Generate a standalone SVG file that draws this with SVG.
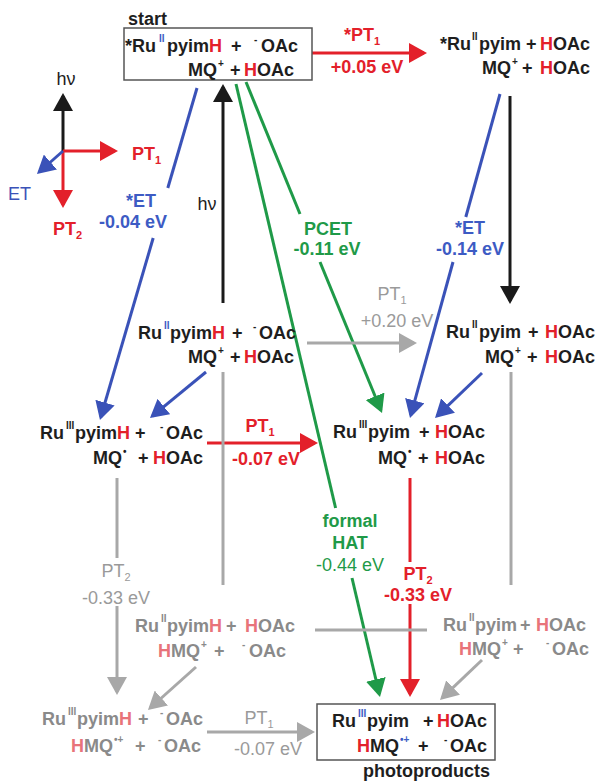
<svg xmlns="http://www.w3.org/2000/svg" width="600" height="784" viewBox="0 0 600 784">
<style>
text{font-family:"Liberation Sans",Arial,Helvetica,sans-serif}
.t{font-size:18px;font-weight:bold;fill:#1e1e1e}
.g{font-size:18px;font-weight:bold;fill:#8a8a8a}
.sup{font-size:10px}
.r{fill:#e3202a}
.lr{fill:#e8737a}
.bl{fill:#3d5bc4}
.lab{font-size:18px;font-weight:bold;text-anchor:middle}
.glab{font-size:18px;fill:#9a9a9a;text-anchor:middle}
.sub{font-size:11px}
.box{fill:#fff;stroke:#555;stroke-width:1.5}
.c{fill:none;stroke-width:3}
.cr{stroke:#e3202a}.ck{stroke:#1a1a1a}.cb{stroke:#3a52b8}.cg{stroke:#1f9a48}.cy{stroke:#a8a8a8}
</style>
<defs>
<marker id="mr" viewBox="0 0 18 20" refX="15" refY="10" markerWidth="18" markerHeight="20" markerUnits="userSpaceOnUse" orient="auto"><path d="M0,0L18,10L0,20z" fill="#e3202a"/></marker>
<marker id="mk" viewBox="0 0 18 20" refX="15" refY="10" markerWidth="18" markerHeight="20" markerUnits="userSpaceOnUse" orient="auto"><path d="M0,0L18,10L0,20z" fill="#1a1a1a"/></marker>
<marker id="mb" viewBox="0 0 18 20" refX="15" refY="10" markerWidth="18" markerHeight="20" markerUnits="userSpaceOnUse" orient="auto"><path d="M0,0L18,10L0,20z" fill="#3a52b8"/></marker>
<marker id="mg" viewBox="0 0 18 20" refX="15" refY="10" markerWidth="18" markerHeight="20" markerUnits="userSpaceOnUse" orient="auto"><path d="M0,0L18,10L0,20z" fill="#1f9a48"/></marker>
<marker id="my" viewBox="0 0 18 20" refX="15" refY="10" markerWidth="18" markerHeight="20" markerUnits="userSpaceOnUse" orient="auto"><path d="M0,0L18,10L0,20z" fill="#a8a8a8"/></marker>
</defs>
<rect width="600" height="784" fill="#fff"/>

<g id="connectors">
<line class="c cr" x1="312" y1="53" x2="424" y2="53" marker-end="url(#mr)"/>
<line class="c ck" x1="63" y1="151" x2="63" y2="96" marker-end="url(#mk)"/>
<line class="c cr" x1="63" y1="151" x2="115" y2="151" marker-end="url(#mr)"/>
<line class="c cr" x1="63" y1="151" x2="63" y2="205" marker-end="url(#mr)"/>
<line class="c cb" x1="63" y1="151" x2="39.2" y2="172" marker-end="url(#mb)"/>
<line class="c cb" x1="197" y1="88" x2="167.8" y2="188"/>
<line class="c cb" x1="153.2" y1="238" x2="100.8" y2="417" marker-end="url(#mb)"/>
<line class="c ck" x1="223" y1="303" x2="223" y2="87" marker-end="url(#mk)"/>
<line class="c cg" x1="246" y1="82" x2="300" y2="214"/>
<line class="c cg" x1="320" y1="262" x2="380.9" y2="410.2" marker-end="url(#mg)"/>
<line class="c cg" x1="236" y1="84" x2="335.6" y2="508"/>
<line class="c cg" x1="352" y1="578" x2="379.3" y2="694" marker-end="url(#mg)"/>
<line class="c cb" x1="500" y1="94" x2="465.8" y2="217"/>
<line class="c cb" x1="453" y1="262" x2="410.8" y2="415.1" marker-end="url(#mb)"/>
<line class="c ck" x1="510" y1="96" x2="510" y2="301" marker-end="url(#mk)"/>
<line class="c cy" x1="307" y1="343" x2="414" y2="343" marker-end="url(#my)"/>
<line class="c cb" x1="206" y1="372" x2="152.3" y2="416.1" marker-end="url(#mb)"/>
<line class="c cb" x1="482" y1="373" x2="437.2" y2="415.9" marker-end="url(#mb)"/>
<line class="c cr" x1="207" y1="443" x2="315" y2="443" marker-end="url(#mr)"/>
<line class="c cr" x1="410" y1="478" x2="410" y2="562"/>
<line class="c cr" x1="410" y1="604" x2="410" y2="694" marker-end="url(#mr)"/>
<line class="c cy" x1="117" y1="478" x2="117" y2="558"/>
<line class="c cy" x1="117" y1="606" x2="117" y2="692" marker-end="url(#my)"/>
<line class="c cy" x1="223" y1="372" x2="223" y2="585"/>
<line class="c cy" x1="511" y1="372" x2="511" y2="585"/>
<line class="c cy" x1="315" y1="630" x2="427" y2="630"/>
<line class="c cy" x1="196" y1="667" x2="150.2" y2="708" marker-end="url(#my)"/>
<line class="c cy" x1="482" y1="660" x2="442.2" y2="697.9" marker-end="url(#my)"/>
<line class="c cy" x1="207" y1="732" x2="312" y2="732" marker-end="url(#my)"/>
</g>

<g id="legend">
<text x="66" y="85" style="font-size:18px;fill:#1e1e1e;text-anchor:middle">hν</text>
<text x="132" y="160" class="lab r" style="text-anchor:start">PT<tspan class="sub" dy="4">1</tspan></text>
<text x="8" y="200" style="font-size:18px;fill:#3a52b8">ET</text>
<text x="53" y="235" class="lab r" style="text-anchor:start">PT<tspan class="sub" dy="4">2</tspan></text>
</g>

<g id="labels">
<text x="362" y="41" class="lab r">*PT<tspan class="sub" dy="4">1</tspan></text>
<text x="367" y="73" class="lab r">+0.05 eV</text>
<text x="141" y="207" class="lab bl">*ET</text>
<text x="133" y="228" class="lab bl">-0.04 eV</text>
<text x="207" y="210" style="font-size:18px;fill:#1e1e1e;text-anchor:middle">hν</text>
<text x="328" y="235" class="lab" fill="#1f9a48">PCET</text>
<text x="327" y="255" class="lab" fill="#1f9a48">-0.11 eV</text>
<text x="470" y="234" class="lab bl">*ET</text>
<text x="470" y="255" class="lab bl">-0.14 eV</text>
<text x="392" y="300" class="glab">PT<tspan class="sub" dy="4">1</tspan></text>
<text x="397" y="327" class="glab">+0.20 eV</text>
<text x="260" y="432" class="lab r">PT<tspan class="sub" dy="4">1</tspan></text>
<text x="266" y="465" class="lab r">-0.07 eV</text>
<text x="350" y="527" class="lab" fill="#1f9a48">formal</text>
<text x="350" y="549" class="lab" fill="#1f9a48">HAT</text>
<text x="350" y="571" style="font-size:18px;fill:#1f9a48;text-anchor:middle">-0.44 eV</text>
<text x="116" y="577" class="glab">PT<tspan class="sub" dy="4">2</tspan></text>
<text x="116" y="604" class="glab">-0.33 eV</text>
<text x="418" y="580" class="lab r">PT<tspan class="sub" dy="4">2</tspan></text>
<text x="418" y="601" class="lab r">-0.33 eV</text>
<text x="259" y="724" class="glab">PT<tspan class="sub" dy="4">1</tspan></text>
<text x="268" y="755" class="glab">-0.07 eV</text>
</g>

<g id="start">
<rect class="box" x="124" y="28" width="188" height="52"/>
<text class="t" x="128" y="25">start</text>
<text class="t"><tspan x="125" y="52">*Ru</tspan><tspan class="sup bl" x="159" y="42">II</tspan><tspan x="167" y="52">pyim</tspan><tspan class="r">H</tspan><tspan x="231">+</tspan><tspan class="sup" x="254" y="43">-</tspan><tspan x="261" y="52">OAc</tspan></text>
<text class="t"><tspan x="188" y="76">MQ</tspan><tspan class="sup" x="218" y="67">+</tspan><tspan x="230" y="76">+</tspan><tspan class="r" x="244">H</tspan><tspan>OAc</tspan></text>
</g>

<g id="excited-pt">
<text class="t"><tspan x="440" y="50">*Ru</tspan><tspan class="sup" x="472" y="40">II</tspan><tspan x="479" y="50">pyim</tspan><tspan x="526">+</tspan><tspan class="r" x="540">H</tspan><tspan>OAc</tspan></text>
<text class="t"><tspan x="482" y="74">MQ</tspan><tspan class="sup" x="512" y="65">+</tspan><tspan x="522" y="74">+</tspan><tspan class="r" x="540">H</tspan><tspan>OAc</tspan></text>
</g>

<g id="ground-left">
<text class="t"><tspan x="138" y="339">Ru</tspan><tspan class="sup bl" x="164" y="329">II</tspan><tspan x="170" y="339">pyim</tspan><tspan class="r">H</tspan><tspan x="232">+</tspan><tspan class="sup" x="253" y="330">-</tspan><tspan x="259" y="339">OAc</tspan></text>
<text class="t"><tspan x="188" y="363">MQ</tspan><tspan class="sup" x="218" y="354">+</tspan><tspan x="230" y="363">+</tspan><tspan class="r" x="244">H</tspan><tspan>OAc</tspan></text>
</g>

<g id="ground-right">
<text class="t"><tspan x="446" y="338">Ru</tspan><tspan class="sup" x="472" y="328">II</tspan><tspan x="479" y="338">pyim</tspan><tspan x="528">+</tspan><tspan class="r" x="545">H</tspan><tspan>OAc</tspan></text>
<text class="t"><tspan x="485" y="363">MQ</tspan><tspan class="sup" x="515" y="354">+</tspan><tspan x="527" y="363">+</tspan><tspan class="r" x="545">H</tspan><tspan>OAc</tspan></text>
</g>

<g id="et-left">
<text class="t"><tspan x="40" y="439">Ru</tspan><tspan class="sup" x="66" y="429">III</tspan><tspan x="75" y="439">pyim</tspan><tspan class="r">H</tspan><tspan x="135">+</tspan><tspan class="sup" x="160" y="430">-</tspan><tspan x="166" y="439">OAc</tspan></text>
<text class="t"><tspan x="93" y="464">MQ</tspan><tspan class="sup" x="123" y="455">•</tspan><tspan x="138" y="464">+</tspan><tspan class="r" x="153">H</tspan><tspan>OAc</tspan></text>
</g>

<g id="et-center">
<text class="t"><tspan x="333" y="438">Ru</tspan><tspan class="sup" x="359" y="428">III</tspan><tspan x="368" y="438">pyim</tspan><tspan x="419">+</tspan><tspan class="r" x="435">H</tspan><tspan>OAc</tspan></text>
<text class="t"><tspan x="378" y="464">MQ</tspan><tspan class="sup" x="408" y="455">•</tspan><tspan x="418" y="464">+</tspan><tspan class="r" x="435">H</tspan><tspan>OAc</tspan></text>
</g>

<g id="pt2-left">
<text class="g"><tspan x="135" y="632">Ru</tspan><tspan class="sup" x="161" y="622">II</tspan><tspan x="167" y="632">pyim</tspan><tspan class="lr">H</tspan><tspan x="226">+</tspan><tspan class="lr" x="245">H</tspan><tspan>OAc</tspan></text>
<text class="g"><tspan class="lr" x="158" y="657">H</tspan><tspan>MQ</tspan><tspan class="sup" x="201" y="648">+</tspan><tspan x="214" y="657">+</tspan><tspan class="sup" x="242" y="648">-</tspan><tspan x="249" y="657">OAc</tspan></text>
</g>

<g id="pt2-right">
<text class="g"><tspan x="443" y="631">Ru</tspan><tspan class="sup" x="469" y="621">II</tspan><tspan x="475" y="631">pyim</tspan><tspan x="520">+</tspan><tspan class="lr" x="536">H</tspan><tspan>OAc</tspan></text>
<text class="g"><tspan class="lr" x="459" y="655">H</tspan><tspan>MQ</tspan><tspan class="sup" x="502" y="646">+</tspan><tspan x="513" y="655">+</tspan><tspan class="sup" x="546" y="646">-</tspan><tspan x="552" y="655">OAc</tspan></text>
</g>

<g id="pt2-et">
<text class="g"><tspan x="42" y="725">Ru</tspan><tspan class="sup" x="68" y="715">III</tspan><tspan x="77" y="725">pyim</tspan><tspan class="lr">H</tspan><tspan x="138">+</tspan><tspan class="sup" x="160" y="716">-</tspan><tspan x="166" y="725">OAc</tspan></text>
<text class="g"><tspan class="lr" x="71" y="752">H</tspan><tspan>MQ</tspan><tspan class="sup" x="114" y="743">•+</tspan><tspan x="135" y="752">+</tspan><tspan class="sup" x="158" y="743">-</tspan><tspan x="164" y="752">OAc</tspan></text>
</g>

<g id="photoproducts">
<rect class="box" x="317" y="704" width="178" height="56"/>
<text class="t"><tspan x="332" y="727">Ru</tspan><tspan class="sup bl" x="358" y="717">III</tspan><tspan x="367" y="727">pyim</tspan><tspan x="423">+</tspan><tspan class="r" x="437">H</tspan><tspan>OAc</tspan></text>
<text class="t"><tspan class="r" x="357" y="752">H</tspan><tspan>MQ</tspan><tspan class="sup bl" x="400" y="743">•+</tspan><tspan x="418" y="752">+</tspan><tspan class="sup" x="444" y="743">-</tspan><tspan x="450" y="752">OAc</tspan></text>
<text class="t" x="363" y="777">photoproducts</text>
</g>
</svg>
